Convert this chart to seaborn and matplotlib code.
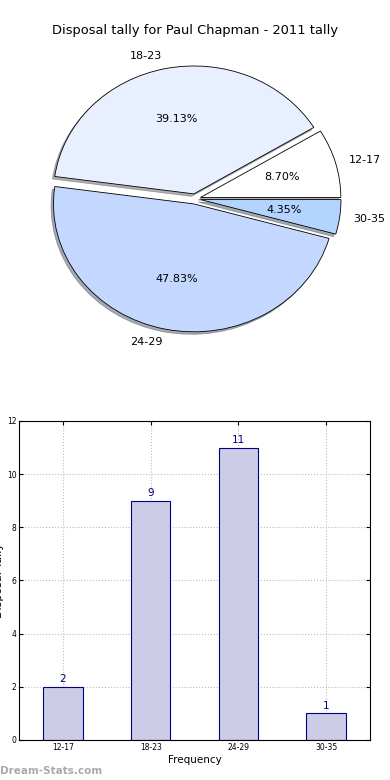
import matplotlib
matplotlib.use("Agg")
import matplotlib.pyplot as plt
import seaborn as sns
import pandas as pd

title = "Disposal tally for Paul Chapman - 2011 tally"
groups = ["12-17", "18-23", "24-29", "30-35"]
tally = [2, 9, 11, 1]
pie_colors = ["#ffffff", "#e8f0ff", "#c4d8ff", "#b3d4ff"]

df = pd.DataFrame({"Group": groups, "Tally": tally})

sns.set_style("white")
plt.rcParams["font.family"] = ["DejaVu Sans"]
plt.rcParams.update({"text.color": "black", "axes.labelcolor": "black",
                     "xtick.color": "black", "ytick.color": "black"})

fig = plt.figure(figsize=(3.9, 7.8), dpi=100)

# pie chart (old matplotlib look: stretched, exploded, shadowed)
ax1 = fig.add_axes([0.05, 0.54, 0.9, 0.41])
ax1.pie(df["Tally"], labels=df["Group"], colors=pie_colors, explode=[0.04] * 4,
        autopct="%1.2f%%", shadow={"ox": -0.012, "oy": -0.014, "shade": 0.6},
        startangle=0,
        wedgeprops={"edgecolor": "black", "linewidth": 0.6},
        textprops={"fontsize": 8})
ax1.set_aspect("auto")
ax1.set_xlim(-1.25, 1.25)
ax1.set_ylim(-1.25, 1.25)
fig.text(0.5, 0.961, title, ha="center", va="center", fontsize=9.4)

# bar chart
ax2 = fig.add_axes([0.049, 0.0513, 0.9, 0.409])
sns.barplot(data=df, x="Group", y="Tally", color="#ccccE6", saturation=1,
            width=0.45, edgecolor="#000080", linewidth=0.8, ax=ax2, zorder=2)
for i, v in enumerate(tally):
    ax2.text(i, v + 0.1, str(v), ha="center", va="bottom", color="#000080", fontsize=7.5)
ax2.set_xlim(-0.5, 3.5)
ax2.set_ylim(0, 12)
ax2.set_yticks(range(0, 13, 2))
ax2.grid(True, linestyle=":", color="#bbbbbb", linewidth=0.8, zorder=0)
ax2.set_axisbelow(True)
ax2.tick_params(direction="in", labelsize=5.5, length=3, top=True, right=True,
                bottom=True, left=True, pad=2)
for s in ax2.spines.values():
    s.set_color("black")
    s.set_linewidth(0.8)
ax2.set_xlabel("Frequency", fontsize=7.5, labelpad=2)
ax2.set_ylabel("Disposal Tally", fontsize=8)
ax2.yaxis.set_label_coords(-0.043, 0.5)

fig.text(0.0, 0.012, "Dream-Stats.com", color="#aaaaaa", fontsize=7.5, fontweight="bold",
         ha="left", va="center")

fig.savefig("out.png", dpi=100)
